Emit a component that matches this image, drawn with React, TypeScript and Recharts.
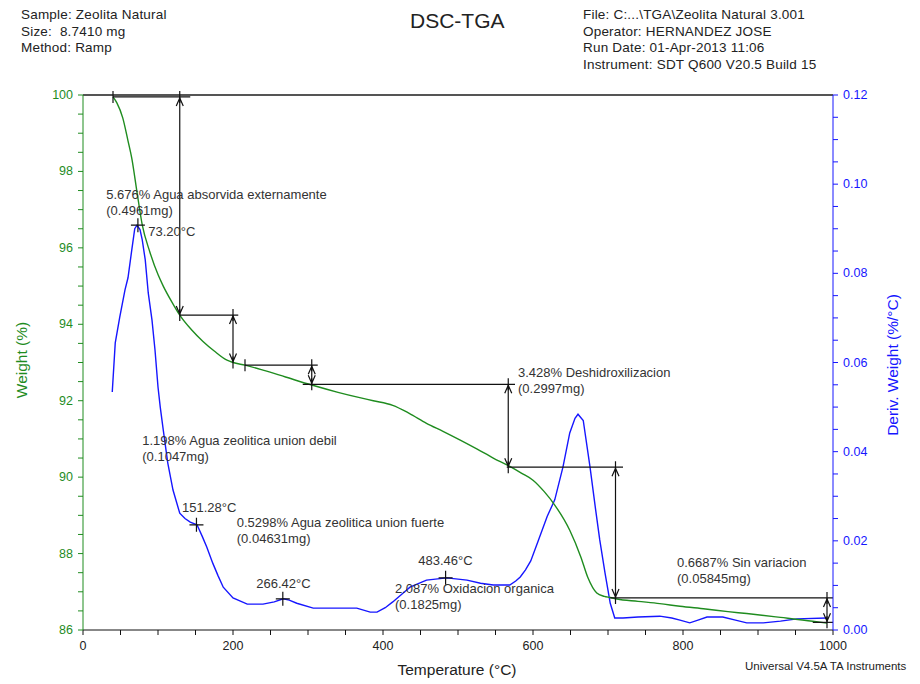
import React from "react";
import { LineChart, Line, XAxis, YAxis, ReferenceLine, ReferenceDot } from "recharts";

// TGA: weight (%) vs temperature (°C)
const tgTemp = [40, 45, 53, 60, 65, 72, 79, 89, 100, 107, 118, 129, 145, 160, 175, 192, 200, 216, 240, 270, 305, 340, 369, 387, 413, 435, 458, 480, 503, 525, 547, 569, 585, 600, 615, 629, 649, 664, 673, 685, 695, 703, 712, 740, 769, 796, 830, 860, 885, 930, 973, 992];
const tgWeight = [99.95, 99.8, 99.4, 98.8, 98.35, 97.46, 96.6, 95.9, 95.3, 95.0, 94.6, 94.24, 93.85, 93.55, 93.3, 93.06, 93.0, 92.93, 92.8, 92.62, 92.41, 92.22, 92.08, 92.0, 91.88, 91.67, 91.41, 91.2, 90.97, 90.74, 90.5, 90.28, 90.1, 89.92, 89.62, 89.27, 88.61, 87.9, 87.38, 86.97, 86.88, 86.85, 86.81, 86.75, 86.69, 86.62, 86.55, 86.48, 86.43, 86.33, 86.23, 86.18];

// DTG: deriv. weight (%/°C)
const dtgTemp = [39, 43, 49, 56, 60, 65, 69, 72, 76, 79, 83, 87, 92, 96, 100, 103, 107, 113, 120, 129, 136, 143, 152, 159, 165, 173, 180, 187, 200, 219, 240, 255, 267, 275, 285, 307, 340, 365, 383, 392, 403, 413, 425, 436, 458, 485, 512, 530, 547, 569, 577, 583, 590, 597, 607, 619, 629, 640, 649, 656, 660, 667, 676, 683, 689, 696, 703, 709, 720, 740, 769, 785, 796, 809, 820, 832, 853, 870, 885, 907, 930, 952, 992];
const dtgDeriv = [0.0534, 0.0644, 0.0702, 0.0763, 0.079, 0.0852, 0.09, 0.0908, 0.0898, 0.0875, 0.083, 0.0756, 0.0695, 0.0628, 0.0545, 0.05, 0.0449, 0.0375, 0.0314, 0.0262, 0.025, 0.0242, 0.0236, 0.021, 0.0186, 0.015, 0.0122, 0.0096, 0.0072, 0.0058, 0.0058, 0.0063, 0.007, 0.0067, 0.006, 0.0049, 0.0049, 0.0049, 0.004, 0.004, 0.005, 0.0063, 0.008, 0.0096, 0.0112, 0.0117, 0.0112, 0.0105, 0.0101, 0.0101, 0.011, 0.0119, 0.0135, 0.0155, 0.02, 0.0255, 0.0292, 0.0366, 0.0442, 0.0475, 0.0484, 0.047, 0.0366, 0.0276, 0.0202, 0.0128, 0.006, 0.0027, 0.0027, 0.0029, 0.0031, 0.0027, 0.0022, 0.0016, 0.0022, 0.0029, 0.0029, 0.0022, 0.0016, 0.0016, 0.002, 0.0025, 0.0027];

const xTicks = [0, 200, 400, 600, 800, 1000];
const weightTicks = [86, 88, 90, 92, 94, 96, 98, 100];
const derivTicks = [0, 0.02, 0.04, 0.06, 0.08, 0.1, 0.12];

// step analysis: horizontal levels and vertical arrows (weight %)
const levels = [
  { w: 99.95, from: 40, to: 143 },
  { w: 94.24, from: 129, to: 207 },
  { w: 92.93, from: 216, to: 313 },
  { w: 92.43, from: 293, to: 576 },
  { w: 90.26, from: 565, to: 720 },
  { w: 86.84, from: 703, to: 1000 },
  { w: 86.2, from: 973, to: 1000 },
];
const steps = [
  { t: 129, top: 99.95, bottom: 94.24 },
  { t: 200, top: 94.24, bottom: 93.0 },
  { t: 305, top: 92.93, bottom: 92.43 },
  { t: 567, top: 92.43, bottom: 90.26 },
  { t: 710, top: 90.26, bottom: 86.84 },
  { t: 992, top: 86.84, bottom: 86.2 },
];
const levelStarts = [
  { t: 40, w: 99.95 },
  { t: 216, w: 92.93 },
];

// DTG peaks
const peaks = [
  { t: 73.2, d: 0.0908 },
  { t: 151.28, d: 0.0236 },
  { t: 266.42, d: 0.007 },
  { t: 483.46, d: 0.0117 },
];

const notes = [
  { t: 31, w: 97.27, lines: ["5.676% Agua absorvida externamente", "(0.4961mg)"] },
  { t: 87, w: 96.31, lines: ["73.20°C"] },
  { t: 79, w: 90.84, lines: ["1.198% Agua zeolitica union debil", "(0.1047mg)"] },
  { t: 132, w: 89.09, lines: ["151.28°C"] },
  { t: 205, w: 88.7, lines: ["0.5298% Agua zeolitica union fuerte", "(0.04631mg)"] },
  { t: 231, w: 87.1, lines: ["266.42°C"] },
  { t: 447, w: 87.7, lines: ["483.46°C"] },
  { t: 416, w: 86.97, lines: ["2.087% Oxidacion organica", "(0.1825mg)"] },
  { t: 580, w: 92.62, lines: ["3.428% Deshidroxilizacion", "(0.2997mg)"] },
  { t: 792, w: 87.65, lines: ["0.6687% Sin variacion", "(0.05845mg)"] },
];

const GREEN = "#1f8c1f";
const BLUE = "#1616ff";
const FONT = "'Liberation Sans', Arial, sans-serif";

// split each major interval into `parts` minor ticks
const withMinor = (major: number[], parts: number) => {
  const out: number[] = [];
  for (let i = 0; i < major.length - 1; i++) {
    for (let k = 0; k < parts; k++) {
      out.push(+(major[i] + ((major[i + 1] - major[i]) * k) / parts).toFixed(6));
    }
  }
  out.push(major[major.length - 1]);
  return out;
};

const tgData = tgTemp.map((t, i) => ({ t, w: tgWeight[i] }));
const dtgData = dtgTemp.map((t, i) => ({ t, d: dtgDeriv[i] }));

const isMajor = (v: number, major: number[]) => major.some((m) => Math.abs(m - v) < 1e-6);

const XTick = (p: any) =>
  isMajor(p.payload.value, xTicks) ? (
    <text x={p.x} y={p.y} dy="0.71em" textAnchor="middle" fontSize={12.5} fill="#222" fontFamily={FONT}>
      {p.payload.value}
    </text>
  ) : (
    <g />
  );

const LeftTick = (p: any) =>
  isMajor(p.payload.value, weightTicks) ? (
    <text x={p.x} y={p.y} dy={4} textAnchor="end" fontSize={12.5} fill={GREEN} fontFamily={FONT}>
      {p.payload.value}
    </text>
  ) : (
    <g />
  );

const RightTick = (p: any) =>
  isMajor(p.payload.value, derivTicks) ? (
    <text x={p.x} y={p.y} dy={4} textAnchor="start" fontSize={12.5} fill={BLUE} fontFamily={FONT}>
      {p.payload.value.toFixed(2)}
    </text>
  ) : (
    <g />
  );

const ArrowUp = (p: any) => (
  <path
    d={`M${p.cx - 3.5},${p.cy + 9} L${p.cx},${p.cy + 1} L${p.cx + 3.5},${p.cy + 9} M${p.cx},${p.cy - 6} L${p.cx},${p.cy + 6}`}
    stroke="#111"
    strokeWidth={1.2}
    fill="none"
  />
);
const ArrowDown = (p: any) => (
  <path
    d={`M${p.cx - 3.5},${p.cy - 9} L${p.cx},${p.cy - 1} L${p.cx + 3.5},${p.cy - 9} M${p.cx},${p.cy - 6} L${p.cx},${p.cy + 6}`}
    stroke="#111"
    strokeWidth={1.2}
    fill="none"
  />
);
const VTick = (p: any) => (
  <path d={`M${p.cx},${p.cy - 6} L${p.cx},${p.cy + 6}`} stroke="#111" strokeWidth={1.2} />
);
const Cross = (p: any) => (
  <path
    d={`M${p.cx - 7},${p.cy} L${p.cx + 7},${p.cy} M${p.cx},${p.cy - 7} L${p.cx},${p.cy + 7}`}
    stroke="#111"
    strokeWidth={1.2}
  />
);

export default function App() {
  return (
    <div
      style={{
        position: "absolute",
        left: 0,
        top: 0,
        width: 920,
        height: 684,
        background: "#fff",
        fontFamily: FONT,
        color: "#222",
      }}
    >
      <div style={{ position: "absolute", left: 21, top: 7, fontSize: 13.5, lineHeight: "16.5px", letterSpacing: 0.2 }}>
        <div>Sample: Zeolita Natural</div>
        <div>Size:&nbsp; 8.7410 mg</div>
        <div>Method: Ramp</div>
      </div>
      <div style={{ position: "absolute", left: 410, top: 9, fontSize: 21 }}>DSC-TGA</div>
      <div style={{ position: "absolute", left: 583, top: 7, fontSize: 13.5, lineHeight: "16.5px", letterSpacing: 0.2 }}>
        <div>File: C:...\TGA\Zeolita Natural 3.001</div>
        <div>Operator: HERNANDEZ JOSE</div>
        <div>Run Date: 01-Apr-2013 11:06</div>
        <div>Instrument: SDT Q600 V20.5 Build 15</div>
      </div>

      <LineChart width={920} height={684} margin={{ top: 95, right: 27, bottom: 24, left: 23 }}>
        <XAxis
          dataKey="t"
          type="number"
          domain={[0, 1000]}
          ticks={withMinor(xTicks, 4)}
          interval={0}
          tick={XTick}
          tickSize={5}
          tickMargin={6}
          height={30}
          stroke="#111"
          allowDataOverflow
        />
        <YAxis
          yAxisId="left"
          type="number"
          domain={[86, 100]}
          ticks={withMinor(weightTicks, 4)}
          interval={0}
          tick={LeftTick}
          tickSize={5}
          tickMargin={5}
          width={60}
          stroke={GREEN}
          allowDataOverflow
        />
        <YAxis
          yAxisId="right"
          orientation="right"
          type="number"
          domain={[0, 0.12]}
          ticks={withMinor(derivTicks, 4)}
          interval={0}
          tick={RightTick}
          tickSize={5}
          tickMargin={5}
          width={60}
          stroke={BLUE}
          allowDataOverflow
        />
        <ReferenceLine yAxisId="left" y={100} stroke="#555" strokeWidth={2} />

        <Line
          yAxisId="right"
          data={dtgData}
          dataKey="d"
          type="linear"
          stroke={BLUE}
          strokeWidth={1.4}
          dot={false}
          isAnimationActive={false}
        />
        <Line
          yAxisId="left"
          data={tgData}
          dataKey="w"
          type="monotone"
          stroke={GREEN}
          strokeWidth={1.4}
          dot={false}
          isAnimationActive={false}
        />

        {levels.map((l, i) => (
          <ReferenceLine
            key={`lv${i}`}
            yAxisId="left"
            segment={[
              { x: l.from, y: l.w },
              { x: l.to, y: l.w },
            ]}
            stroke="#111"
            strokeWidth={1.2}
          />
        ))}
        {steps.map((s, i) => (
          <ReferenceLine
            key={`st${i}`}
            yAxisId="left"
            segment={[
              { x: s.t, y: s.top },
              { x: s.t, y: s.bottom },
            ]}
            stroke="#111"
            strokeWidth={1.2}
          />
        ))}
        {steps.map((s, i) => (
          <ReferenceDot key={`au${i}`} yAxisId="left" x={s.t} y={s.top} shape={ArrowUp} />
        ))}
        {steps.map((s, i) => (
          <ReferenceDot key={`ad${i}`} yAxisId="left" x={s.t} y={s.bottom} shape={ArrowDown} />
        ))}
        {levelStarts.map((s, i) => (
          <ReferenceDot key={`ls${i}`} yAxisId="left" x={s.t} y={s.w} shape={VTick} />
        ))}
        {peaks.map((p, i) => (
          <ReferenceDot key={`pk${i}`} yAxisId="right" x={p.t} y={p.d} shape={Cross} />
        ))}
        {notes.map((n, i) => (
          <ReferenceDot
            key={`nt${i}`}
            yAxisId="left"
            x={n.t}
            y={n.w}
            shape={(p: any) => (
              <text x={p.cx} y={p.cy} fontSize={13} fill="#333" fontFamily={FONT}>
                {n.lines.map((line, j) => (
                  <tspan key={j} x={p.cx} dy={j === 0 ? 0 : 16}>
                    {line}
                  </tspan>
                ))}
              </text>
            )}
          />
        ))}
      </LineChart>

      <div
        style={{
          position: "absolute",
          left: 22,
          top: 360,
          fontSize: 15.5,
          color: GREEN,
          transform: "translate(-50%, -50%) rotate(-90deg)",
          whiteSpace: "nowrap",
        }}
      >
        Weight (%)
      </div>
      <div
        style={{
          position: "absolute",
          left: 893,
          top: 365,
          fontSize: 15.5,
          color: BLUE,
          transform: "translate(-50%, -50%) rotate(-90deg)",
          whiteSpace: "nowrap",
        }}
      >
        Deriv. Weight (%/°C)
      </div>
      <div
        style={{
          position: "absolute",
          left: 457,
          top: 670,
          fontSize: 15.5,
          transform: "translate(-50%, -50%)",
          whiteSpace: "nowrap",
        }}
      >
        Temperature (°C)
      </div>
      <div style={{ position: "absolute", left: 745, top: 660, fontSize: 11.5, whiteSpace: "nowrap" }}>
        Universal V4.5A TA Instruments
      </div>
    </div>
  );
}
